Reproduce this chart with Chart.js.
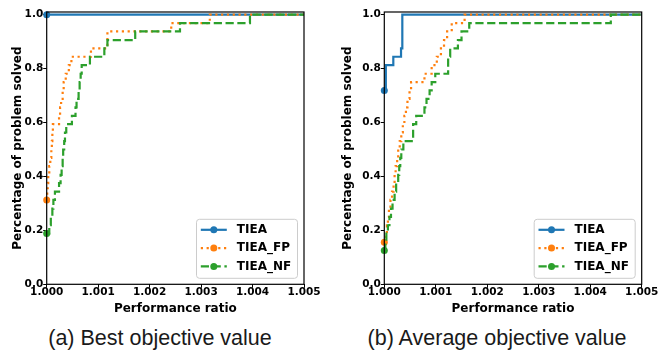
<!DOCTYPE html>
<html>
<head>
<meta charset="utf-8">
<script src="https://cdn.jsdelivr.net/npm/chart.js@4.4.1/dist/chart.umd.min.js"></script>
<style>
  html, body { margin: 0; padding: 0; background: #fff; }
  body { width: 658px; height: 352px; position: relative; overflow: hidden; }
  canvas { position: absolute; top: 0; }
  #chartBest { left: 0; }
  #chartAvg { left: 329px; }
  .caption {
    position: absolute; top: 328px; width: 400px; text-align: center;
    font-family: "Liberation Sans", Arial, sans-serif; font-size: 21.5px;
    line-height: 1; color: #1a1a1a; white-space: nowrap;
  }
</style>
</head>
<body>
<canvas id="chartBest" width="329" height="316"></canvas>
<canvas id="chartAvg" width="329" height="316"></canvas>
<div class="caption" style="left:-40px">(a) Best objective value</div>
<div class="caption" style="left:297px">(b) Average objective value</div>
<script>
// series (fraction of problems solved vs performance ratio)
const seriesNames = ["TIEA", "TIEA_FP", "TIEA_NF"];
const xTicks = [1.000, 1.001, 1.002, 1.003, 1.004, 1.005];
const yTicks = [0.0, 0.2, 0.4, 0.6, 0.8, 1.0];

// (a) best objective value
const bestTieaX = [1.0, 1.005];
const bestTieaY = [1.0, 1.0];
const bestFpX = [1.0, 1.00001, 1.00002, 1.00003, 1.00005, 1.00007, 1.00009, 1.0001, 1.00011, 1.00012,
                 1.00024, 1.00026, 1.00028, 1.00031, 1.00033, 1.00037, 1.00043, 1.00048, 1.00086, 1.00118,
                 1.00242, 1.00317, 1.005];
const bestFpY = [0.313, 0.344, 0.375, 0.406, 0.438, 0.469, 0.5, 0.531, 0.563, 0.594,
                 0.625, 0.656, 0.688, 0.719, 0.75, 0.781, 0.813, 0.844, 0.875, 0.938,
                 0.969, 1.0, 1.0];
const bestNfX = [1.0, 1.00005, 1.00008, 1.00011, 1.00013, 1.00016, 1.00024, 1.00027, 1.00029, 1.00031,
                 1.00032, 1.00034, 1.000355, 1.00038, 1.00049, 1.00056, 1.00058, 1.00062, 1.00064, 1.00066,
                 1.00068, 1.00084, 1.00112, 1.00118, 1.00172, 1.00259, 1.00395, 1.005];
const bestNfY = [0.188, 0.219, 0.25, 0.281, 0.313, 0.344, 0.375, 0.406, 0.438, 0.469,
                 0.5, 0.531, 0.563, 0.594, 0.625, 0.656, 0.688, 0.719, 0.75, 0.781,
                 0.813, 0.844, 0.875, 0.906, 0.938, 0.969, 1.0, 1.0];

// (b) average objective value
const avgTieaX = [1.0, 1.00003, 1.000175, 1.000325, 1.00035, 1.005];
const avgTieaY = [0.719, 0.813, 0.844, 0.875, 1.0, 1.0];
const avgFpX = [1.0, 1.00003, 1.00005, 1.00007, 1.00009, 1.00012, 1.00015, 1.00018, 1.0002, 1.00022,
                1.00025, 1.00027, 1.0003, 1.00033, 1.00036, 1.00039, 1.00042, 1.00045, 1.00049, 1.00052,
                1.00078, 1.00092, 1.00102, 1.0011, 1.00116, 1.00122, 1.00131, 1.00156, 1.005];
const avgFpY = [0.156, 0.188, 0.219, 0.25, 0.281, 0.313, 0.344, 0.375, 0.406, 0.438,
                0.469, 0.5, 0.531, 0.563, 0.594, 0.625, 0.656, 0.688, 0.719, 0.75,
                0.781, 0.813, 0.844, 0.875, 0.906, 0.938, 0.969, 1.0, 1.0];
const avgNfX = [1.0, 1.00002, 1.00004, 1.00007, 1.0001, 1.00013, 1.00016, 1.0002, 1.00023, 1.00027,
                1.00029, 1.00031, 1.00033, 1.00037, 1.00056, 1.00062, 1.00078, 1.00082, 1.00088, 1.00092,
                1.00099, 1.00124, 1.00128, 1.00143, 1.0015, 1.00165, 1.0044, 1.005];
const avgNfY = [0.125, 0.156, 0.188, 0.219, 0.25, 0.281, 0.313, 0.344, 0.375, 0.406,
                0.438, 0.469, 0.5, 0.531, 0.594, 0.625, 0.656, 0.688, 0.719, 0.75,
                0.781, 0.844, 0.875, 0.906, 0.938, 0.969, 1.0, 1.0];

const seriesColors = ["#1f77b4", "#ff7f0e", "#2ca02c"];
const seriesDash = [[], [2.2, 3.6], [8.2, 3.6]];

const tickFont = { family: "'DejaVu Sans', sans-serif", size: 10.5, weight: "bold" };
const titleFont = { family: "'DejaVu Sans', sans-serif", size: 12, weight: "bold", lineHeight: 1.2 };

// matplotlib style box round the plot area
const framePlugin = {
    id: "frame",
    afterDatasetsDraw(chart) {
        const { ctx, chartArea: a } = chart;
        ctx.save();
        ctx.strokeStyle = "#000";
        ctx.lineWidth = 1.2;
        ctx.strokeRect(a.left, a.top, a.right - a.left, a.bottom - a.top);
        ctx.restore();
    }
};

// legend box in the lower right corner
const legendPlugin = {
    id: "boxLegend",
    afterDraw(chart) {
        const { ctx, chartArea } = chart;
        const w = 101, h = 59;
        const left = chartArea.right - 6.5 - w;
        const top = chartArea.bottom - 6 - h;
        ctx.save();
        ctx.beginPath();
        ctx.roundRect(left, top, w, h, 3);
        ctx.fillStyle = "rgba(255,255,255,0.8)";
        ctx.fill();
        ctx.strokeStyle = "#cccccc";
        ctx.lineWidth = 1;
        ctx.stroke();
        chart.data.datasets.forEach((ds, i) => {
            const y = top + 10.5 + i * 18.3;
            ctx.setLineDash(ds.borderDash);
            ctx.strokeStyle = ds.borderColor;
            ctx.lineWidth = ds.borderWidth;
            ctx.lineCap = "butt";
            ctx.beginPath();
            ctx.moveTo(left + 4.3, y);
            ctx.lineTo(left + 30.3, y);
            ctx.stroke();
            ctx.setLineDash([]);
            ctx.beginPath();
            ctx.arc(left + 17.3, y, 3.5, 0, Math.PI * 2);
            ctx.fillStyle = ds.borderColor;
            ctx.fill();
            ctx.font = "bold 12px 'DejaVu Sans'";
            ctx.fillStyle = "#000";
            ctx.textBaseline = "middle";
            ctx.fillText(ds.label, left + 40.3, y);
        });
        ctx.restore();
    }
};

function makeChart(canvasId, xsList, ysList, box) {
    const datasets = seriesNames.map((name, i) => ({
        label: name,
        data: xsList[i].map((x, k) => ({ x: x, y: ysList[i][k] })),
        borderColor: seriesColors[i],
        backgroundColor: seriesColors[i],
        borderWidth: 2.2,
        borderDash: seriesDash[i],
        borderCapStyle: "butt",
        stepped: true,
        fill: false,
        pointRadius: ctx => ctx.dataIndex === 0 ? 3.5 : 0,
        pointBorderWidth: 0,
        pointBackgroundColor: seriesColors[i],
        order: 3 - i,
        clip: false
    }));

    const gridOpts = { drawOnChartArea: false, drawTicks: true, tickLength: 3.5, tickColor: "#000", tickWidth: 1 };

    return new Chart(document.getElementById(canvasId), {
        type: "line",
        data: { datasets: datasets },
        options: {
            responsive: false,
            animation: false,
            events: [],
            layout: { padding: { left: box.padLeft, right: box.padRight, top: 12, bottom: 0 } },
            plugins: { legend: { display: false }, tooltip: { enabled: false } },
            scales: {
                x: {
                    type: "linear", min: 1.0, max: 1.005,
                    afterBuildTicks: s => { s.ticks = xTicks.map(v => ({ value: v })); },
                    afterFit: s => { s.height = 31.7; },
                    grid: gridOpts,
                    border: { display: false },
                    ticks: { font: tickFont, color: "#000", padding: -2, maxRotation: 0, autoSkip: false,
                             callback: v => v.toFixed(3) },
                    title: { display: true, text: "Performance ratio", font: titleFont, color: "#000", padding: 0 }
                },
                y: {
                    min: 0, max: 1.01,
                    afterBuildTicks: s => { s.ticks = yTicks.map(v => ({ value: v })); },
                    afterFit: s => { s.width = box.axisWidth; },
                    grid: gridOpts,
                    border: { display: false },
                    ticks: { font: tickFont, color: "#000", padding: 0, autoSkip: false,
                             callback: v => v.toFixed(1) },
                    title: { display: true, text: "Percentage of problem solved", font: titleFont, color: "#000", padding: 0 }
                }
            }
        },
        plugins: [framePlugin, legendPlugin]
    });
}

makeChart("chartBest",
    [bestTieaX, bestFpX, bestNfX], [bestTieaY, bestFpY, bestNfY],
    { padLeft: 10.6, axisWidth: 36.1, padRight: 25 });

makeChart("chartAvg",
    [avgTieaX, avgFpX, avgNfX], [avgTieaY, avgFpY, avgNfY],
    { padLeft: 11.6, axisWidth: 43.7, padRight: 16.3 });
</script>
</body>
</html>
